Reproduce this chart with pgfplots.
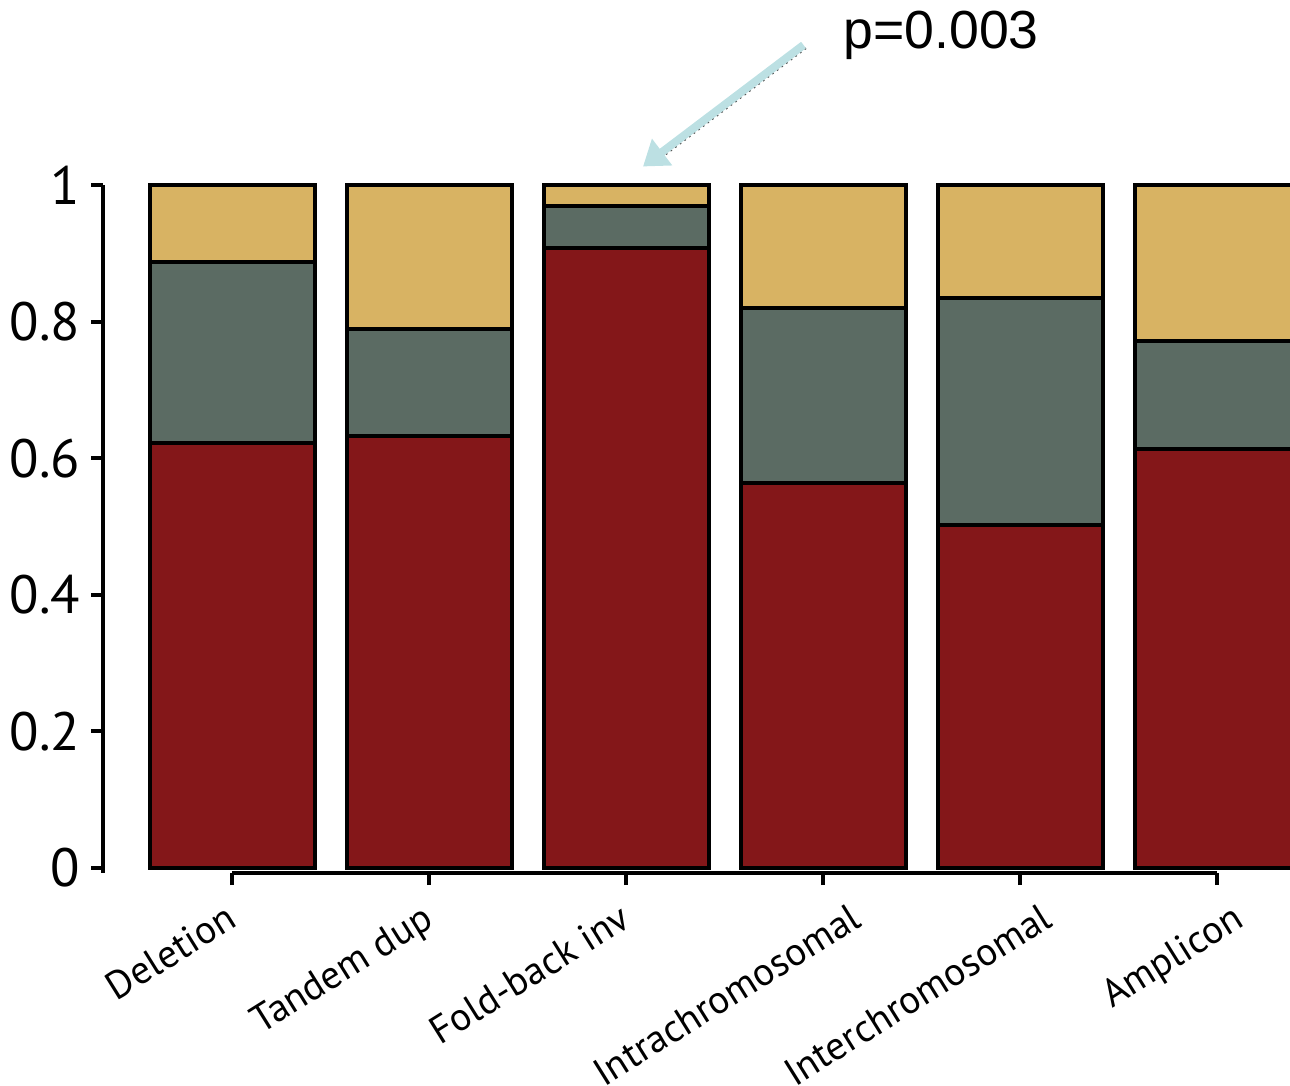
\documentclass[border=0pt]{standalone}
\usepackage{pgfplots}
\pgfplotsset{compat=1.18}
\usepackage{fontspec}
\setmainfont{PT Sans}
\newfontfamily\arialf{Liberation Sans}
\usetikzlibrary{arrows.meta}
\definecolor{cred}{HTML}{841719}
\definecolor{cgray}{HTML}{5B6B63}
\definecolor{cgold}{HTML}{D8B363}
\definecolor{carrow}{HTML}{BCE0E3}
\newcommand{\lbl}[3]{\raisebox{-#1}{#3\hspace*{-#2}}}
\pgfplotstableread{
x red gray gold
0 0.622 0.265 0.113
1 0.633 0.156 0.211
2 0.908 0.061 0.031
3 0.564 0.256 0.180
4 0.502 0.333 0.165
5 0.613 0.159 0.228
}\datatable
\begin{document}
\begin{tikzpicture}
\begin{axis}[
  x=49.25pt, y=170.75pt,
  xmin=-0.6548, xmax=5.3706,
  ymin=-0.00732, ymax=1,
  clip=false,
  axis x line=bottom, axis y line=left,
  axis line style={draw=none,-},
  ybar stacked, bar width=0.8376,
  xtick={0,1,2,3,4,5},
  xticklabels={Deletion,Tandem dup,Fold-back inv,\lbl{4.5pt}{7.2pt}{Intrachromosomal},\lbl{3.7pt}{5.9pt}{Interchromosomal},\lbl{2.9pt}{4.7pt}{Amplicon}},
  ytick={0,0.2,0.4,0.6,0.8,1},
  yticklabels={0,0.2,0.4,0.6,0.8,1},
  tick align=outside,
  major tick length=3pt,
  tick style={black, line width=1pt},
  xticklabel style={xshift=1.75pt, yshift=-10pt, rotate=32, anchor=base east, font=\fontsize{9.8}{11}\selectfont, inner sep=0pt},
  yticklabel style={font=\fontsize{13.5}{15}\selectfont, inner sep=0pt, xshift=-2.5pt},
  /pgf/number format/assume math mode=true,
]
\addplot[fill=cred, draw=black, line width=1pt] table[x=x, y=red] {\datatable};
\addplot[fill=cgray, draw=black, line width=1pt] table[x=x, y=gray] {\datatable};
\addplot[fill=cgold, draw=black, line width=1pt] table[x=x, y=gold] {\datatable};
\draw[line width=1pt, black] (axis cs:-0.6548,1) -- (axis cs:-0.6548,-0.00732);
\draw[line width=1pt, black] (axis cs:0,-0.00732) -- (axis cs:5,-0.00732);
\draw[carrow, line width=2pt, -{Triangle[length=6pt,width=8pt]}] (axis cs:2.9010,1.2050) -- (axis cs:2.0862,1.0271);
\draw[gray!60!black, line width=0.45pt, densely dotted, xshift=0.6pt, yshift=-0.8pt] (axis cs:2.9010,1.2050) -- (axis cs:2.125,1.0355);
\node[anchor=base west, font=\arialf\fontsize{13.4}{15}\selectfont, inner sep=0pt] at (axis cs:3.100,1.2006) {p=0.003};
\coordinate (bl) at (axis cs:-1.1777,-0.3177);
\coordinate (tr) at (axis cs:5.3706,1.2709);
\end{axis}
\pgfresetboundingbox
\useasboundingbox (bl) rectangle (tr);
\end{tikzpicture}
\end{document}
